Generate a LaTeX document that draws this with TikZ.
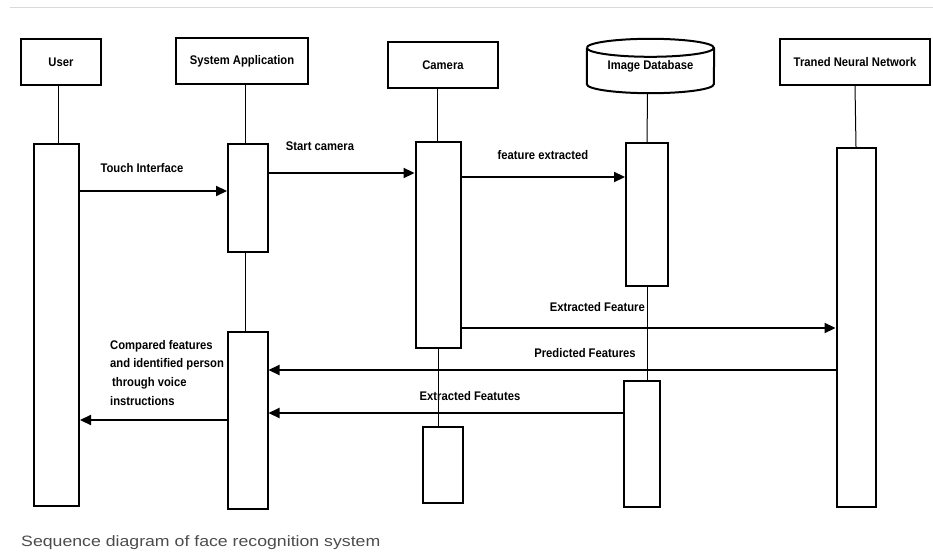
\documentclass[tikz,border=0pt]{standalone}
\usepackage{fontspec}
\setmainfont{Liberation Sans}
\newfontfamily\condfont[FakeStretch=0.9]{Liberation Sans}
\newfontfamily\capfont[FakeStretch=1.18]{Liberation Sans}
\usetikzlibrary{arrows.meta,calc}
\tikzset{
  x=1pt, y=-1pt,
  head/.style={draw, line width=2pt, fill=white, inner sep=0pt, font=\condfont\bfseries\fontsize{12.5}{14}\selectfont},
  act/.style={draw, line width=2pt, fill=white, inner sep=0pt},
  life/.style={line width=1pt},
  msg/.style={line width=2.2pt, -{Triangle[length=11pt,width=10pt]}},
  lbl/.style={font=\condfont\bfseries\fontsize{12.5}{14}\selectfont, inner sep=0pt},
}
\begin{document}
\begin{tikzpicture}
\useasboundingbox (0,0) rectangle (933,553);
\draw[gray!30, line width=1pt] (10,8) -- (933,8);
% headers
\node[head, minimum width=80, minimum height=46] (user) at (61,62) {User};
\node[head, minimum width=132, minimum height=46] (sys) at (242,61) {System Application};
\node[head, minimum width=110, minimum height=46] (cam) at (443,65) {Camera};
\node[inner sep=0pt, minimum width=127, minimum height=54, font=\condfont\bfseries\fontsize{12.5}{14}\selectfont] (db) at (650.5,66) {Image Database};
\draw[line width=2pt] (db.north west) ++(0,9) arc[start angle=180, end angle=-180, x radius=63.5, y radius=9];
\draw[line width=2pt] (db.north west) ++(0,9) -- ($(db.south west)+(0,-9)$) arc[start angle=180, end angle=0, x radius=63.5, y radius=9] -- ($(db.north east)+(0,9)$);
\node[head, minimum width=150, minimum height=46] (tnn) at (855,62) {Traned Neural Network};
% activations
\node[act, minimum width=45, minimum height=362] (ua) at (56.5,325) {};
\node[act, minimum width=40, minimum height=108] (sa1) at (248,198) {};
\node[act, minimum width=40, minimum height=177] (sa2) at (247.5,420.5) {};
\node[act, minimum width=45, minimum height=206] (ca1) at (438,245) {};
\node[act, minimum width=40, minimum height=76] (ca2) at (443,465) {};
\node[act, minimum width=42, minimum height=143] (da1) at (647,214.5) {};
\node[act, minimum width=36, minimum height=126] (da2) at (641.5,444) {};
\node[act, minimum width=39, minimum height=359] (ta) at (856,327.5) {};
% lifelines
\draw[life] (user.south -| 58,0) -- (ua.north -| 58,0);
\draw[life] (sys.south -| 245,0) -- (sa1.north -| 245,0);
\draw[life] (sa1.south -| 245,0) -- (sa2.north -| 245,0);
\draw[life] (cam.south -| 437,0) -- (ca1.north -| 437,0);
\draw[life] (ca1.south -| 438,0) -- (ca2.north -| 438,0);
\draw[life] ($(db.south)+(-3,0)$) -- (da1.north -| 647,0);
\draw[life] (da1.south -| 647,0) -- (da2.north -| 647,0);
\draw[life] (tnn.south) -- (ta.north);
% messages
\draw[msg] (ua.east |- 0,191) -- (sa1.west |- 0,191);
\draw[msg] (sa1.east |- 0,173) -- (ca1.west |- 0,173);
\draw[msg] (ca1.east |- 0,177) -- (da1.west |- 0,177);
\draw[msg] (ca1.east |- 0,328) -- (ta.west |- 0,328);
\draw[msg] (ta.west |- 0,370) -- (sa2.east |- 0,370);
\draw[msg] (da2.west |- 0,413) -- (sa2.east |- 0,413);
\draw[msg] (sa2.west |- 0,420) -- (ua.east |- 0,420);
% labels
\node[lbl] (l1) at (142,168) {Touch Interface};
\node[lbl] (l2) at (320,146) {Start camera};
\node[lbl] (l3) at (543,155) {feature extracted};
\node[lbl, anchor=east] (l4) at (645,307) {Extracted Feature};
\node[lbl] (l5) at (585,353) {Predicted Features};
\node[lbl] (l6) at (470,396) {Extracted Featutes};
\node[lbl, anchor=north west, align=left, font=\condfont\bfseries\fontsize{12.5}{18.6}\selectfont] (l7) at (110,340) {Compared features\\and identified person\\\hspace{2pt}through voice\\instructions};
\node[anchor=west, inner sep=0pt, text=black!70, font=\capfont\fontsize{15}{18}\selectfont] (cap) at (21,543) {Sequence diagram of face recognition system};
\end{tikzpicture}
\end{document}
